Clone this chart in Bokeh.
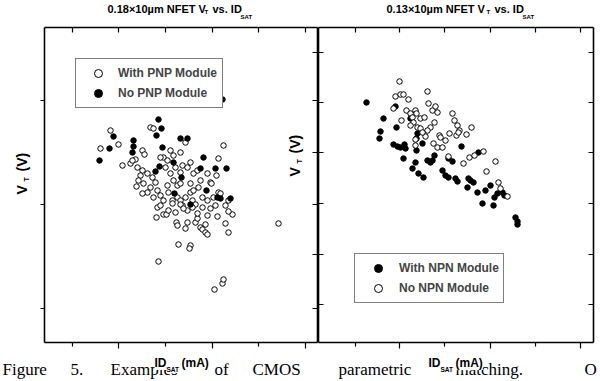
import math
from bokeh.plotting import figure
from bokeh.models import (LinearAxis, FixedTicker, Label, Legend, LegendItem,
                          Range1d, ColumnDataSource, CustomJSTickFormatter)
from bokeh.embed import file_html
from bokeh.resources import INLINE

FONT = "Liberation Sans"
SERIF = "Liberation Serif"

# ---------------- data (arbitrary units: ID_SAT, V_T) ----------------
# Left panel: 0.18x10um NFET
with_pnp_id = [66, 56, 74, 106, 109, 98, 100, 91, 78, 86, 179, 174, 141, 136, 88, 93, 98, 96, 94, 99,
               103, 108, 111, 106, 113, 103, 98, 109, 116, 119, 124, 123, 119, 121, 126, 129, 133, 136,
               138, 143, 146, 149, 153, 156, 154, 146, 141, 148, 133, 128, 136, 163, 166, 172, 174, 169,
               163, 158, 149, 116, 126, 123, 129, 131, 234, 114, 134, 146, 145, 170, 178, 179, 184, 181,
               188, 173, 163, 112, 113, 119, 122, 132, 133, 141, 143, 151, 153, 156, 158, 161, 163, 161,
               153, 151, 138, 136, 128, 92, 143, 139, 148, 158, 181, 184, 176, 167, 136, 146, 184, 116,
               124, 131, 166, 171]
with_pnp_vt = [212, 194, 198, 215, 214, 192, 188, 183, 177, 179, 197, 184, 200, 190, 182, 175, 172, 167,
               162, 159, 169, 165, 160, 155, 152, 150, 149, 145, 147, 142, 150, 157, 185, 175, 169, 162,
               157, 170, 177, 175, 180, 169, 172, 162, 155, 150, 145, 142, 145, 142, 142, 169, 160, 167,
               150, 145, 142, 145, 152, 185, 192, 182, 187, 175, 119, 81, 98, 97, 94, 53, 59, 63, 110,
               119, 128, 126, 127, 125, 135, 128, 128, 120, 117, 114, 120, 120, 124, 115, 113, 110, 108,
               118, 129, 138, 137, 138, 139, 156, 132, 134, 135, 135, 137, 131, 149, 159, 159, 159, 142,
               137, 132, 130, 134, 137]
no_pnp_id = [114, 117, 112, 69, 65, 55, 89, 89, 88, 118, 136, 143, 159, 129, 115, 111, 156, 171, 182,
             178, 137, 162, 130, 146, 173, 176, 186]
no_pnp_vt = [223, 214, 207, 206, 194, 182, 202, 196, 190, 195, 204, 204, 185, 180, 176, 171, 174, 174,
             174, 243, 165, 152, 149, 138, 145, 144, 144]

# Right panel: 0.13x10um NFET
with_npn_id = [48, 65, 62, 61, 78, 77, 75, 79, 82, 86, 87, 85, 94, 97, 98, 100, 105, 99, 98, 104, 109,
               112, 114, 116, 124, 127, 134, 130, 137, 143, 149, 152, 155, 159, 167, 172, 176, 179, 184,
               186, 160, 92, 164, 175, 197, 199, 199, 139, 130, 150]
with_npn_vt = [240, 224, 211, 204, 215, 236, 198, 196, 195, 198, 194, 184, 174, 180, 192, 169, 165, 209,
               204, 199, 182, 180, 182, 187, 172, 167, 181, 165, 164, 196, 155, 162, 160, 150, 152, 157,
               145, 149, 150, 147, 190, 224, 139, 137, 125, 121, 118, 161, 184, 164]
no_npn_id = [81, 77, 82, 85, 90, 109, 75, 83, 88, 92, 97, 98, 94, 95, 92, 102, 106, 110, 114, 117, 119,
             116, 112, 109, 107, 99, 102, 104, 97, 97, 115, 119, 121, 134, 136, 139, 141, 122, 127, 131,
             138, 140, 148, 153, 130, 145, 151, 156, 165, 168, 177, 180, 182, 189, 124]
no_npn_vt = [261, 246, 248, 248, 243, 251, 234, 222, 232, 229, 232, 229, 225, 220, 217, 224, 225, 239,
             232, 236, 230, 220, 215, 212, 206, 215, 214, 210, 197, 203, 199, 195, 207, 229, 222, 217,
             212, 205, 202, 209, 207, 210, 208, 215, 186, 179, 185, 187, 191, 171, 181, 160, 154, 146, 195]

# panel extents (data units) and tick positions (no tick labels in the original)
L_X = (0, 273)
R_X = (0, 275)
Y_SPAN = (0, 315)
L_XMAJ = [74, 168, 261]
L_XMIN = [28, 121, 214]
L_XTOP = [28, 74, 121, 168, 214, 261]
L_YMAJ = [242, 138, 34]
L_YALL = [290, 242, 190, 138, 88, 34]
R_XMAJ = [81, 172, 262]
R_XMIN = [37, 126, 217]
R_XALL = [37, 81, 126, 172, 217, 262]
R_YALL = [290, 240, 190, 139, 88, 38]

CAPTION_WORDS = ["Figure", "5.", "Examples", "of", "CMOS", "parametric", "matching.", "O"]
CAPTION_X = [2, 70, 110, 214, 252, 338, 455, 584]

W, H = 600, 381

p = figure(width=W, height=H, output_backend="svg", toolbar_location=None,
           x_range=Range1d(-44, W - 44), y_range=Range1d(-39, H - 39),
           x_axis_location=None, y_axis_location=None,
           min_border_left=0, min_border_right=0, min_border_top=0, min_border_bottom=0)
p.extra_x_ranges = {"right": Range1d(-318, W - 318)}
p.xgrid.visible = False
p.ygrid.visible = False
p.outline_line_color = None
p.background_fill_color = "white"
p.border_fill_color = "white"


def add_axis(side, loc, bounds, majors, minors, tin, mtin, xr="default"):
    ax = LinearAxis(ticker=FixedTicker(ticks=majors, minor_ticks=minors),
                    formatter=CustomJSTickFormatter(code="return ''"),
                    fixed_location=loc, bounds=bounds, x_range_name=xr,
                    major_label_standoff=0, major_label_text_font_size="0px",
                    major_tick_in=tin, major_tick_out=0,
                    minor_tick_in=mtin, minor_tick_out=0,
                    axis_line_color="black", axis_line_width=1.6,
                    major_tick_line_color="black", major_tick_line_width=1.2,
                    minor_tick_line_color="black", minor_tick_line_width=1.2)
    p.add_layout(ax, side)


# left panel box + ticks
add_axis("above", Y_SPAN[0], L_X, L_XMAJ, L_XMIN, 6, 4)          # bottom edge, ticks point down
add_axis("above", Y_SPAN[1], L_X, L_XTOP, [], 5, 0)              # top edge, ticks inward
add_axis("right", L_X[0], Y_SPAN, L_YMAJ, [], 4, 0)              # left edge, ticks outward
add_axis("right", L_X[1], Y_SPAN, L_YALL, [], 5, 0)              # right edge, ticks inward
# right panel box + ticks
add_axis("above", Y_SPAN[0], R_X, R_XMAJ, R_XMIN, 6, 4, "right")
add_axis("above", Y_SPAN[1], R_X, R_XALL, [], 5, 0, "right")
add_axis("left", R_X[0], Y_SPAN, R_YALL, [], 5, 0, "right")
add_axis("right", R_X[1], Y_SPAN, R_YALL, [], 5, 0, "right")

MS = 5.5
s_open1 = ColumnDataSource(dict(x=with_pnp_id, y=with_pnp_vt))
s_fill1 = ColumnDataSource(dict(x=no_pnp_id, y=no_pnp_vt))
r_o1 = p.scatter("x", "y", source=s_open1, marker="circle", size=MS,
                 fill_color="white", line_color="black", line_width=1)
r_f1 = p.scatter("x", "y", source=s_fill1, marker="circle", size=MS,
                 fill_color="black", line_color="black", line_width=1)
s_fill2 = ColumnDataSource(dict(x=with_npn_id, y=with_npn_vt))
s_open2 = ColumnDataSource(dict(x=no_npn_id, y=no_npn_vt))
r_f2 = p.scatter("x", "y", source=s_fill2, marker="circle", size=MS, x_range_name="right",
                 fill_color="black", line_color="black", line_width=1)
r_o2 = p.scatter("x", "y", source=s_open2, marker="circle", size=MS, x_range_name="right",
                 fill_color="white", line_color="black", line_width=1)


def legend(items, loc, gw, st, lw):
    lg = Legend(items=items, location=loc, padding=4, spacing=0, margin=0,
                glyph_width=gw, glyph_height=20, label_height=20, label_standoff=st,
                label_width=lw, border_line_color="black", border_line_width=1,
                background_fill_color="white", background_fill_alpha=1,
                label_text_font=FONT, label_text_font_style="bold",
                label_text_font_size="12px")
    p.add_layout(lg)


legend([LegendItem(label="With PNP Module", renderers=[r_o1]),
        LegendItem(label="No PNP Module", renderers=[r_f1])], (75, H - 108), 36, 2, 100)
legend([LegendItem(label="With NPN Module", renderers=[r_f2]),
        LegendItem(label="No NPN Module", renderers=[r_o2])], (354, H - 303), 38, 2, 100)

SHIFT = 0.45  # empirical baseline correction (fraction of font size)


def txt(X, Y, s, size, bold=True, rot=False, font=FONT, bg=None):
    if rot:
        x, y, ang = X - SHIFT * size * 0.6, H - Y, math.pi / 2
    else:
        x, y, ang = X, H - (Y - SHIFT * size), 0.0
    p.add_layout(Label(x=x, y=y, x_units="screen", y_units="screen", text=s,
                       text_font=font, text_font_size=f"{size}px",
                       text_font_style="bold" if bold else "normal",
                       text_color="black", angle=ang, text_baseline="alphabetic",
                       text_align="left", background_fill_color=bg))


# caption (bottom line of the source page)
for w, xw in zip(CAPTION_WORDS, CAPTION_X):
    txt(xw, 377, w, 17, bold=False, font=SERIF)
# titles
txt(107, 13.5, "0.18×10µm NFET V", 11)
txt(204, 14, "T", 6)
txt(212, 13.5, "vs. ID", 11)
txt(240, 19, "SAT", 6)
txt(386, 13.5, "0.13×10µm NFET V", 11)
txt(486, 14, "T", 6)
txt(494, 13.5, "vs. ID", 11)
txt(522, 19, "SAT", 6)
# y labels
txt(25, 194, "V", 14, rot=True)
txt(28, 181, "T", 7, rot=True)
txt(25, 171, "(V)", 14, rot=True)
txt(298, 176, "V", 14, rot=True)
txt(301, 163, "T", 7, rot=True)
txt(298, 153, "(V)", 14, rot=True)
# x labels (drawn over the caption, with white behind them)
txt(154, 368, "ID", 12, bg="white")
txt(166, 372, "SAT", 6.5, bg="white")
txt(181, 368, "(mA)", 12, bg="white")
txt(428, 368, "ID", 12, bg="white")
txt(440, 372, "SAT", 6.5, bg="white")
txt(455, 368, "(mA)", 12, bg="white")

open("out.html", "w").write(file_html(p, INLINE))
